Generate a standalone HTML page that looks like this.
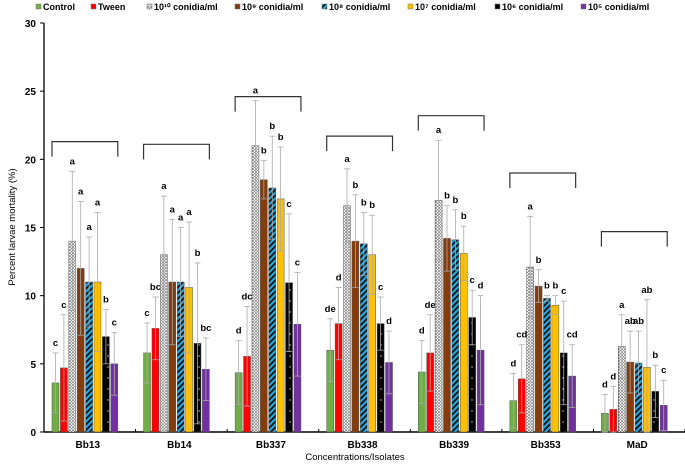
<!DOCTYPE html>
<html><head><meta charset="utf-8"><style>
body{margin:0;background:#fff}
svg{font-family:"Liberation Sans",Arial,sans-serif;font-weight:bold}
</style></head><body>
<svg id="chart" width="685" height="462" viewBox="0 0 685 462">
<defs>
<pattern id="dots" width="3" height="3" patternUnits="userSpaceOnUse"><rect width="3" height="3" fill="#eee"/><circle cx="1" cy="1" r="0.8" fill="#444"/><circle cx="2.5" cy="2.5" r="0.5" fill="#666"/></pattern>
<pattern id="stripe" width="4" height="4" patternUnits="userSpaceOnUse" patternTransform="rotate(45)"><rect width="4" height="4" fill="#29a8e0"/><rect width="1.8" height="4" fill="#111"/></pattern>
<pattern id="specks" width="7" height="11" patternUnits="userSpaceOnUse"><rect width="7" height="11" fill="#000"/><circle cx="3" cy="4" r="0.7" fill="#ccc"/></pattern>
</defs>
<g id="legend"></g>
<g id="plot"></g>
</svg>
<script>
const categories=["Bb13","Bb14","Bb337","Bb338","Bb339","Bb353","MaD"];
const seriesNames=["Control","Tween","10¹⁰ conidia/ml","10⁹ conidia/ml","10⁸ conidia/ml","10⁷ conidia/ml","10⁶ conidia/ml","10⁵ conidia/ml"];
const values=[
[3.6,4.7,14,12,11,11,7,5],
[5.8,7.6,13,11,11,10.6,6.5,4.6],
[4.35,5.55,21,18.5,17.9,17.1,10.95,7.9],
[6.0,7.95,16.6,14.0,13.8,13.0,7.95,5.1],
[4.4,5.8,17,14.2,14.1,13.1,8.4,6.0],
[2.3,3.9,12.1,10.7,9.8,9.3,5.8,4.1],
[1.37,1.66,6.28,5.13,5.06,4.74,2.98,1.96]];
const errTops=[
[5.8,8.6,19.1,16.9,14.3,16.1,9,7.3],
[8,9.9,17.3,15.6,15,15.4,12.4,6.9],
[6.7,9.2,24.3,19.9,21.7,20.9,16.0,11.7],
[8.3,10.6,19.3,17.4,16.1,15.9,9.9,7.4],
[6.7,8.6,21.4,16.6,16.3,15.1,10.4,10.0],
[4.3,6.4,15.8,11.9,10.0,10.0,9.6,6.4],
[2.76,3.35,8.6,7.4,7.4,9.7,4.9,3.8]];
const letters=[
["c","c","a","a","a","a","b","c"],
["c","bc","a","a","a","a","b","bc"],
["d","dc","a","b","b","b","c","c"],
["de","d","a","b","b","b","c","d"],
["d","de","a","b","b","b","c","d"],
["d","cd","a","b","b","b","c","cd"],
["d","d","a","ab","ab","ab","b","c"]];
const bracketLevels=[21.3,21.1,24.6,21.7,23.2,19.0,14.7];
const yTicks=[0,5,10,15,20,25,30];
const fills=["#70ad47","#ff0000","url(#dots)","#843c0c","url(#stripe)","#ffc000","url(#specks)","#7030a0"];
const NS="http://www.w3.org/2000/svg";
const X0=44,X1=685,Y0=432,Y30=23;
const y=v=>Y0-(v/30)*(Y0-Y30);
const gw=(X1-X0)/categories.length;
const barX=(g,s)=>X0+g*gw+8+s*8.4;
function mk(tag,attrs,parent,text){const e=document.createElementNS(NS,tag);for(const k in attrs)e.setAttribute(k,attrs[k]);if(text!==undefined)e.textContent=text;parent.appendChild(e);return e;}
const plot=document.getElementById('plot');
const legend=document.getElementById('legend');
const legX=[36,91,147,235,322,408,495,581];
seriesNames.forEach((n,i)=>{
 const g=mk('g',{},legend);
 
 
 mk('rect',{x:legX[i],y:4,width:5,height:5,fill:fills[i],stroke:"#777","stroke-width":0.5},g);
 mk('text',{x:legX[i]+7,y:10,"font-size":"9"},g,n);
});
const ax=mk('g',{},plot);


mk('line',{x1:X0,y1:Y30,x2:X0,y2:Y0,stroke:"#000","stroke-width":1.3},ax);
yTicks.forEach(t=>{
 mk('line',{x1:X0-4,y1:y(t),x2:X0,y2:y(t),stroke:"#000"},ax);
 const tl=mk('text',{x:X0-8,y:y(t)+4,"text-anchor":"end","font-size":"10"},ax,t);
 
 
});
const yt=mk('text',{x:0,y:0,transform:"translate(15,227) rotate(-90)","text-anchor":"middle","font-size":"9.5","font-weight":"normal"},plot,"Percent larvae mortality (%)");


const xa=mk('line',{x1:X0,y1:Y0,x2:X1,y2:Y0,stroke:"#000","stroke-width":1.5},plot);


categories.forEach((c,g)=>{
 mk('line',{x1:X0+(g+1)*gw,y1:Y0-3,x2:X0+(g+1)*gw,y2:Y0,stroke:"#000"},plot);
 const lb=mk('text',{x:X0+g*gw+gw/2-2,y:448,"text-anchor":"middle","font-size":"10"},plot,c);
 
 
 values[g].forEach((v,s)=>{
  const bx=barX(g,s),top=errTops[g][s],lo=Math.max(0,v-(top-v)),cx=bx+3.5;
  const b=mk('rect',{x:bx,y:y(v),width:7,height:Y0-y(v),fill:fills[s],stroke:"#555","stroke-width":0.5},plot);
  
  
  const e=mk('g',{stroke:"#aaa","stroke-width":0.8},plot);
  
  
  mk('line',{x1:cx,y1:y(top),x2:cx,y2:y(lo)},e);
  mk('line',{x1:cx-3,y1:y(top),x2:cx+3,y2:y(top)},e);
  mk('line',{x1:cx-3,y1:y(lo),x2:cx+3,y2:y(lo)},e);
  const l=mk('text',{x:cx,y:y(top)-7,"text-anchor":"middle","font-size":"9.5"},plot,letters[g][s]);
  
  
 });
 const bl=bracketLevels[g],xl=barX(g,0),xr=barX(g,7)+7;
 const br=mk('polyline',{points:`${xl},${y(bl-1.1)} ${xl},${y(bl)} ${xr},${y(bl)} ${xr},${y(bl-1.1)}`,fill:"none",stroke:"#333","stroke-width":1.2},plot);
 
 
});
const xt=mk('text',{x:355,y:460,"text-anchor":"middle","font-size":"9.5","font-weight":"normal"},plot,"Concentrations/Isolates");


</script>
</body></html>
